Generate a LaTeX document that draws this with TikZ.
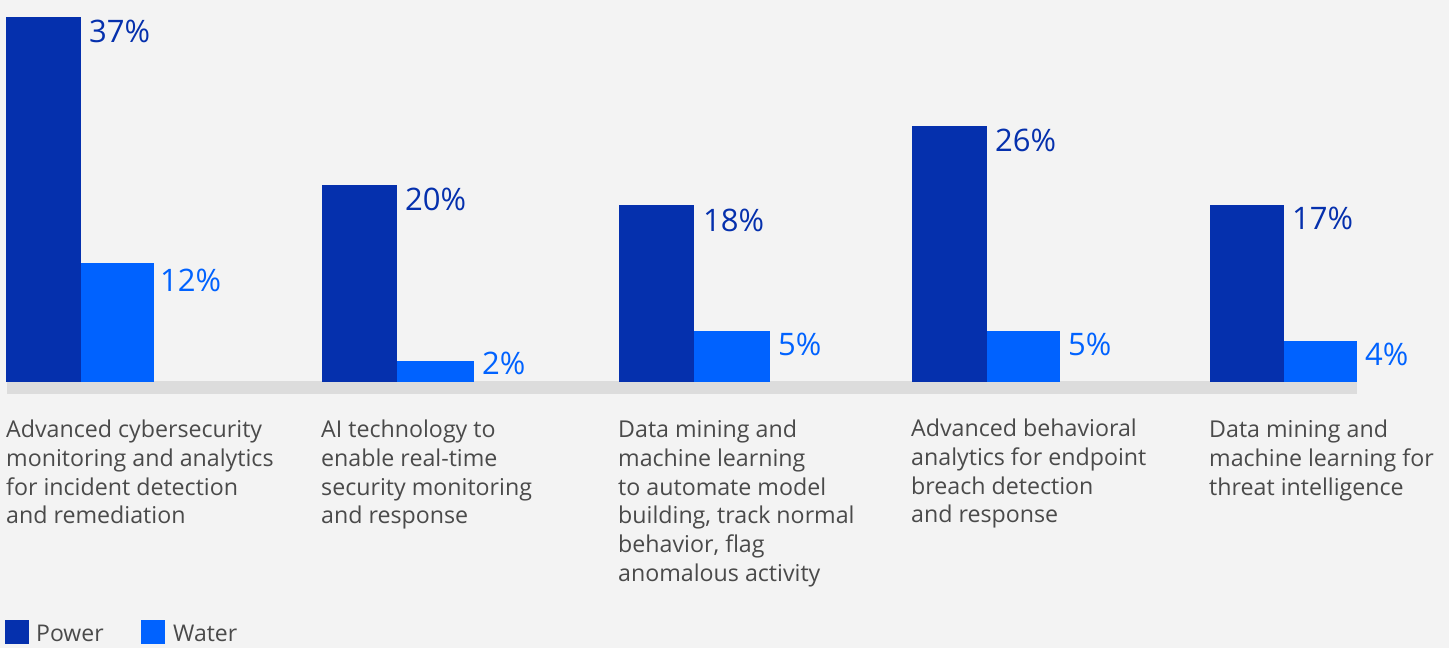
\documentclass[tikz,border=0pt]{standalone}
\usepackage{fontspec}
\setmainfont{Open Sans}
\definecolor{bgc}{HTML}{F3F3F3}
\definecolor{pow}{HTML}{0530AD}
\definecolor{wat}{HTML}{0062FF}
\definecolor{axisc}{HTML}{DCDCDC}
\definecolor{txt}{HTML}{4A4A4A}
\begin{document}
\begin{tikzpicture}[x=1pt,y=-1pt,
  powbar/.style={fill=pow,draw=none},
  watbar/.style={fill=wat,draw=none},
  pctpow/.style={anchor=base west,inner sep=0pt,text=pow,font=\fontsize{31}{36}\selectfont},
  pctwat/.style={anchor=base west,inner sep=0pt,text=wat,font=\fontsize{31}{36}\selectfont},
  cat/.style={anchor=north west,inner sep=0pt,align=left,text=txt,font=\fontsize{23.2}{28.7}\selectfont},
  leg/.style={anchor=base west,inner sep=0pt,text=txt,font=\fontsize{23}{28}\selectfont}]
\fill[bgc] (0,0) rectangle (1449,648);
\useasboundingbox (0,0) rectangle (1449,648);
% axis
\fill[axisc] (7,381) rectangle (1357,394);
% bars
\fill[powbar] (6,17) rectangle (81,382);
\fill[watbar] (81,263) rectangle (154,382);
\fill[powbar] (322,185) rectangle (397,382);
\fill[watbar] (397,361) rectangle (474,382);
\fill[powbar] (619,205) rectangle (694,382);
\fill[watbar] (694,331) rectangle (770,382);
\fill[powbar] (912,126) rectangle (987,382);
\fill[watbar] (987,331) rectangle (1060,382);
\fill[powbar] (1210,205) rectangle (1284,382);
\fill[watbar] (1284,341) rectangle (1357,382);
% percentage labels
\node[pctpow] (p1) at (89,42) {37\%};
\node[pctwat] (w1) at (160,291) {12\%};
\node[pctpow] (p2) at (405,210) {20\%};
\node[pctwat] (w2) at (482,374) {2\%};
\node[pctpow] (p3) at (703,231) {18\%};
\node[pctwat] (w3) at (778,355) {5\%};
\node[pctpow] (p4) at (995,151) {26\%};
\node[pctwat] (w4) at (1068,355) {5\%};
\node[pctpow] (p5) at (1292,229) {17\%};
\node[pctwat] (w5) at (1365,365) {4\%};
% category labels
\node[cat] (c1) at (6,420) {Advanced cybersecurity\\monitoring and analytics\\for incident detection\\and remediation};
\node[cat] (c2) at (321,420) {AI technology to\\enable real-time\\security monitoring\\and response};
\node[cat] (c3) at (618,420) {Data mining and\\machine learning\\to automate model\\building, track normal\\behavior, flag\\anomalous activity};
\node[cat] (c4) at (911,419) {Advanced behavioral\\analytics for endpoint\\breach detection\\and response};
\node[cat] (c5) at (1209,420) {Data mining and\\machine learning for\\threat intelligence};
% legend
\fill[pow] (5,620) rectangle (29,644);
\node[leg] (lp) at (36,641) {Power};
\fill[wat] (141,620) rectangle (165,644);
\node[leg] (lw) at (173,641) {Water};
\end{tikzpicture}
\end{document}
